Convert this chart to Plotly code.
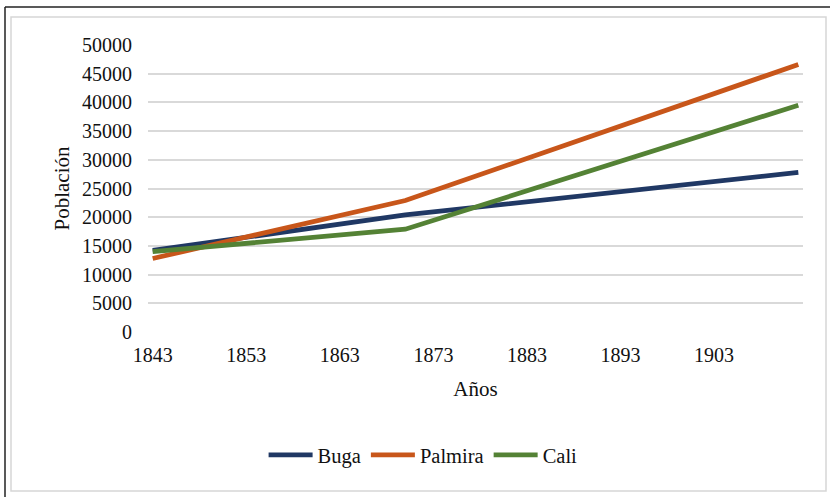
import plotly.graph_objects as go

years = [1843, 1851, 1870, 1912]
buga = [14200, 16000, 20400, 27800]
palmira = [12800, 15800, 22900, 46600]
cali = [14000, 15200, 17900, 39500]

x_ticks = [1843, 1853, 1863, 1873, 1883, 1893, 1903]
y_ticks = [0, 5000, 10000, 15000, 20000, 25000, 30000, 35000, 40000, 45000, 50000]

W, H = 830, 497
L, R, T, B = 148, 27, 45, 165
pw, ph = W - L - R, H - T - B

def px(x):
    return (x - L) / pw

def py(y):
    return (H - B - y) / ph

font = "Liberation Serif, Times New Roman, serif"

fig = go.Figure()
for name, vals, col in [("Buga", buga, "#203864"),
                        ("Palmira", palmira, "#c8561a"),
                        ("Cali", cali, "#548235")]:
    fig.add_trace(go.Scatter(x=years, y=vals, mode="lines", name=name,
                             line=dict(color=col, width=4.8)))

shapes = [
    dict(type="rect", xref="paper", yref="paper", x0=px(11), x1=px(826), y0=py(17), y1=py(491),
         line=dict(color="#d6d6d6", width=1.5), layer="below"),
    dict(type="line", xref="paper", yref="paper", x0=px(5), x1=px(5), y0=py(7), y1=py(497),
         line=dict(color="#222222", width=1.5)),
    dict(type="line", xref="paper", yref="paper", x0=px(5), x1=px(830), y0=py(7), y1=py(7),
         line=dict(color="#222222", width=1.5)),
]

fig.update_layout(
    width=W, height=H,
    margin=dict(l=L, r=R, t=T, b=B),
    paper_bgcolor="white", plot_bgcolor="white",
    font=dict(family=font, size=20, color="#111111"),
    shapes=shapes,
    showlegend=True,
    legend=dict(orientation="h", x=0.42, xanchor="center", y=py(455), yanchor="middle",
                font=dict(family=font, size=20.5, color="#111111"),
                itemwidth=44, tracegroupgap=0),
    xaxis=dict(range=[1842.5, 1912.5], tickmode="array", tickvals=x_ticks,
               ticktext=[str(v) for v in x_ticks], showgrid=False, zeroline=False,
               showline=False, ticks="", ticklabelstandoff=9,
               tickfont=dict(family=font, size=20),
               title=dict(text="Años", standoff=16, font=dict(family=font, size=21))),
    yaxis=dict(range=[0, 50000], tickmode="array", tickvals=y_ticks,
               ticktext=[str(v) for v in y_ticks], showgrid=True, gridcolor="#d9d9d9",
               gridwidth=1.5, zeroline=False, showline=False, ticks="", ticklabelstandoff=15,
               tickfont=dict(family=font, size=20),
               title=dict(text="Población", standoff=6, font=dict(family=font, size=21))),
)

fig.write_html("out.html", config={"displayModeBar": False},
               post_script="document.body.style.margin='0';document.body.style.overflow='hidden';")
